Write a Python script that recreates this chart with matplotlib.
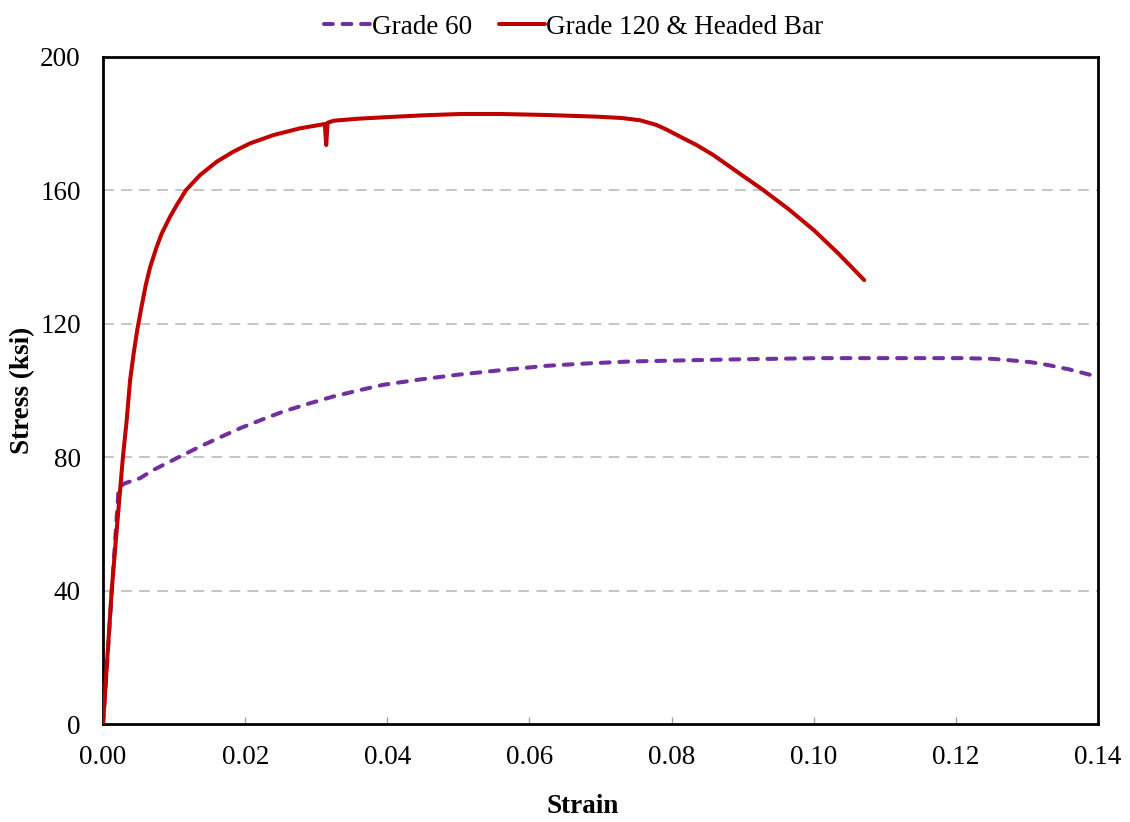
import numpy as np
import matplotlib.pyplot as plt

plt.rcParams['font.family'] = ['Liberation Serif', 'DejaVu Serif']

# кривая деформирования, сталь Grade 60
strain_g60 = [0, 0.0022, 0.0031, 0.0052, 0.0071, 0.00896, 0.0113, 0.01365, 0.0165, 0.0193,
              0.0224, 0.02537, 0.029, 0.0324, 0.0359, 0.0394, 0.0446, 0.0498, 0.056, 0.0624,
              0.068, 0.0742, 0.081, 0.0882, 0.0945, 0.1009, 0.111, 0.121, 0.125, 0.128,
              0.1305, 0.1328, 0.136, 0.1389]
stress_g60 = [0, 71.0, 72.2, 73.7, 76.2, 78.2, 80.7, 83.2, 86.0, 88.7,
              91.3, 93.7, 96.1, 98.2, 100.0, 101.7, 103.3, 104.7, 106.1, 107.4,
              108.1, 108.7, 109.0, 109.3, 109.5, 109.7, 109.7, 109.7, 109.5, 109.0,
              108.5, 107.7, 106.3, 104.7]

# кривая деформирования, Grade 120 с анкерной головкой
strain_g120 = [0, 0.00122, 0.002, 0.0028, 0.00333, 0.0038, 0.0043, 0.0048, 0.0054, 0.006,
               0.0066, 0.00755, 0.00826, 0.00943, 0.01037, 0.01168, 0.01365, 0.016, 0.01833,
               0.0207, 0.024, 0.0277, 0.0312, 0.0314, 0.0316, 0.0325, 0.036, 0.0394, 0.045,
               0.0503, 0.056, 0.0624, 0.0695, 0.073, 0.0756, 0.0779, 0.0795, 0.0812, 0.0835,
               0.0858, 0.089, 0.0929, 0.0965, 0.1, 0.1035, 0.1071]
stress_g120 = [0, 40.2, 60.2, 80.1, 91.2, 103, 111.0, 118.0, 125.0, 131.5,
               136.8, 143.1, 147.1, 152.1, 155.6, 160.1, 164.6, 168.6, 171.6,
               174.1, 176.6, 178.6, 179.9, 173.6, 180.3, 180.9, 181.5, 181.9, 182.5,
               182.9, 182.9, 182.6, 182.1, 181.7, 181.0, 179.6, 178.0, 176.1, 173.6,
               170.7, 165.9, 160.1, 154.3, 148.1, 141.0, 133.1]

x_ticks = [0.00, 0.02, 0.04, 0.06, 0.08, 0.10, 0.12, 0.14]
y_ticks = [0, 40, 80, 120, 160, 200]

fig = plt.figure(figsize=(11.3, 8.22), dpi=100)
ax = fig.add_axes([0.0912, 0.1192, 0.8805, 0.8115])

ax.plot(strain_g60, stress_g60, color='#7030A0', lw=2.9, dashes=(2.2, 2.4),
        dash_capstyle='round', dash_joinstyle='round', label='Grade 60', zorder=3)
ax.plot(strain_g120, stress_g120, color='#C00000', lw=2.9, solid_capstyle='round',
        solid_joinstyle='round', label='Grade 120 & Headed Bar', zorder=4)

ax.set_xlim(0, 0.14)
ax.set_ylim(0, 200)
ax.set_xticks(x_ticks)
ax.set_xticklabels(['%.2f' % v for v in x_ticks])
ax.set_yticks(y_ticks)

# горизонтальная сетка пунктиром
for v in y_ticks[1:-1]:
    ax.axhline(v, color='#c0c0c0', lw=1.3, dashes=(6, 4), zorder=1)

for s in ax.spines.values():
    s.set_linewidth(2.0)
    s.set_color('black')

ax.tick_params(axis='x', direction='in', length=5, width=1, color='#a0a0a0',
               labelsize=19.5, pad=15)
ax.tick_params(axis='y', length=0, labelsize=19.5, pad=16)

ax.set_xlabel('Strain', fontsize=19.5, fontweight='bold')
ax.xaxis.set_label_coords(0.482, -0.105)
ax.set_ylabel('Stress (ksi)', fontsize=19.5, fontweight='bold', labelpad=4)

fig.legend(loc='upper center', bbox_to_anchor=(0.508, 1.012), ncol=2, frameon=False,
           fontsize=19.5, handlelength=1.7, handletextpad=0.05, columnspacing=1.0)

plt.savefig('out.png', dpi=100)
